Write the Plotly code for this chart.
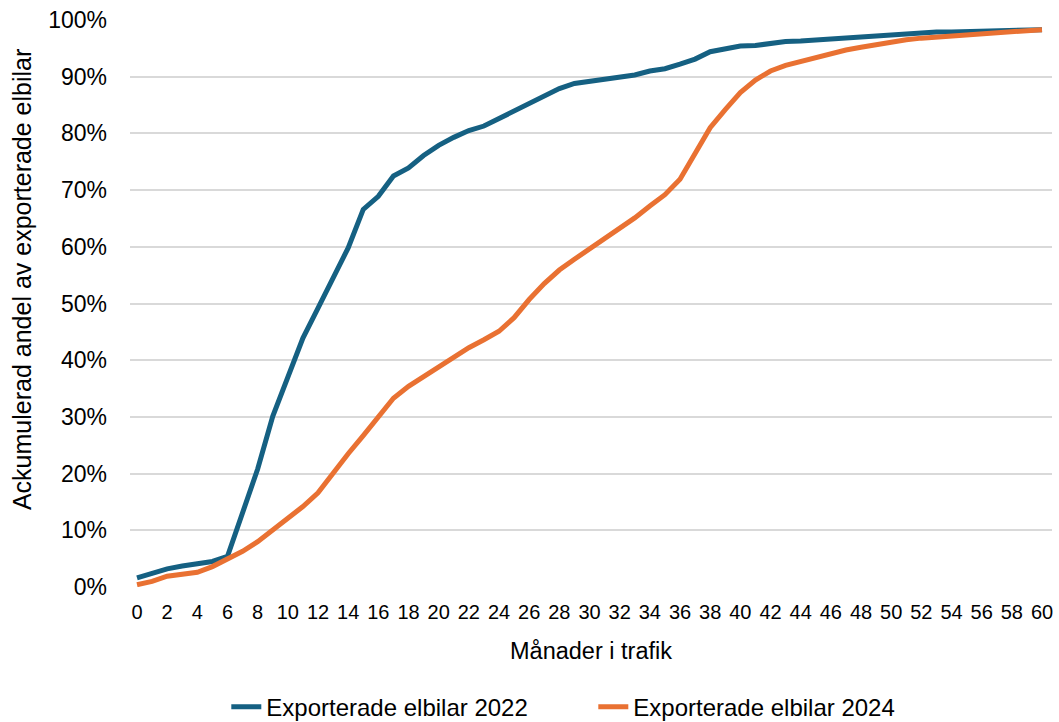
import plotly.graph_objects as go

months = list(range(0, 61))

exported_2022 = [
    1.6, 2.5, 3.2, 3.7, 4.1, 4.5, 5.4, 13.0, 20.8, 30.1,
    37.2, 43.9, 49.2, 54.4, 59.8, 66.6, 68.9, 72.5, 73.9, 76.1,
    77.9, 79.3, 80.5, 81.3, 82.6, 83.9, 85.4, 86.7, 87.9, 88.8,
    89.2, 89.7, 90.1, 90.3, 91.0, 91.4, 92.2, 93.1, 94.4, 95.0,
    95.4, 95.5, 95.9, 96.2, 96.3, 96.5, 96.6, 96.8, 96.9, 97.1,
    97.3, 97.6, 97.8, 97.9, 97.9, 98.0, 98.1, 98.1, 98.2, 98.3,
    98.3,
]

exported_2024 = [
    0.4, 1.0, 1.9, 2.3, 2.6, 3.6, 4.9, 6.3, 8.0, 10.0,
    12.0, 14.2, 16.6, 20.2, 23.5, 26.7, 30.1, 33.3, 35.4, 37.1,
    38.9, 40.6, 42.2, 43.6, 45.1, 47.5, 50.7, 53.5, 55.9, 57.8,
    59.6, 61.4, 63.2, 65.1, 67.2, 69.2, 71.9, 76.6, 81.0, 84.2,
    87.2, 89.4, 91.0, 92.0, 92.7, 93.5, 94.1, 94.7, 95.2, 95.7,
    96.1, 96.5, 96.8, 97.0, 97.2, 97.4, 97.6, 97.8, 97.9, 98.1,
    98.3,
]

series_names = ["Exporterade elbilar 2022", "Exporterade elbilar 2024"]
series_colors = ["#156082", "#E97132"]

x_ticks = list(range(0, 61, 2))
y_ticks = [i / 10 for i in range(0, 11)]
y_tick_labels = [f"{i * 10}%" for i in range(0, 11)]

x_title = "Månader i trafik"
y_title = "Ackumulerad andel av exporterade elbilar"

FONT = "Liberation Sans, Arial, sans-serif"

fig = go.Figure()
for name, vals, col in zip(series_names, [exported_2022, exported_2024], series_colors):
    fig.add_trace(go.Scatter(
        x=months,
        y=[v / 100 for v in vals],
        mode="lines",
        name=name,
        line=dict(color=col, width=5),
    ))

fig.add_annotation(
    text=y_title,
    textangle=-90,
    xref="paper", yref="paper",
    x=-0.1171, y=0.5414,
    xanchor="center", yanchor="middle",
    showarrow=False,
    font=dict(family=FONT, size=25, color="#000000"),
)

fig.update_layout(
    width=1059,
    height=722,
    margin=dict(l=130, r=7, t=20, b=135, autoexpand=False),
    paper_bgcolor="white",
    plot_bgcolor="white",
    font=dict(family=FONT, size=22, color="#000000"),
    showlegend=True,
    legend=dict(
        orientation="h",
        x=0.5025,
        xanchor="center",
        y=-0.212,
        yanchor="middle",
        entrywidth=322,
        font=dict(family=FONT, size=24, color="#000000"),
    ),
    xaxis=dict(
        range=[-0.464, 60.663],
        automargin=False,
        tickmode="array",
        tickvals=x_ticks,
        ticktext=[str(t) for t in x_ticks],
        showgrid=False,
        zeroline=False,
        showline=False,
        ticks="",
        ticklabelstandoff=11,
        tickfont=dict(family=FONT, size=20, color="#000000"),
        title=dict(text=x_title, standoff=20,
                   font=dict(family=FONT, size=23.5, color="#000000")),
    ),
    yaxis=dict(
        range=[0, 1],
        automargin=False,
        tickmode="array",
        tickvals=y_ticks,
        ticktext=y_tick_labels,
        showgrid=True,
        gridcolor="#d9d9d9",
        gridwidth=1.5,
        zeroline=False,
        showline=False,
        ticks="",
        ticklabelstandoff=22,
        tickfont=dict(family=FONT, size=23, color="#000000"),
    ),
)

fig.write_html(
    "out.html",
    config={"displayModeBar": False},
    post_script="document.body.style.margin='0';",
)
